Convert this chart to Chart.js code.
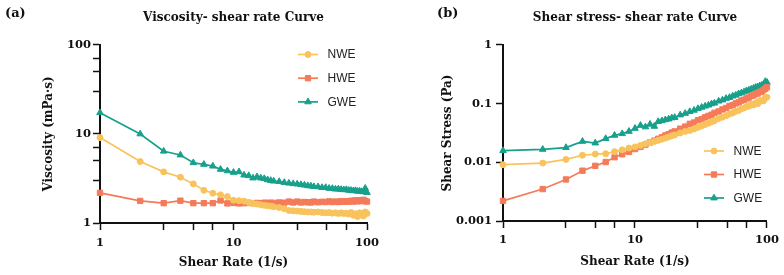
<!DOCTYPE html>
<html>
<head>
<meta charset="utf-8">
<script src="https://cdn.jsdelivr.net/npm/chart.js@4/dist/chart.umd.min.js"></script>
<style>
  html, body { margin: 0; padding: 0; background: #fff; }
  #wrap { position: relative; width: 784px; height: 275px; overflow: hidden; }
  .panel { position: absolute; top: 0; width: 392px; height: 275px; }
  #pa { left: 0; }
  #pb { left: 392px; }
</style>
</head>
<body>
<div id="wrap">
  <div class="panel" id="pa"><canvas id="ca" width="392" height="275"></canvas></div>
  <div class="panel" id="pb"><canvas id="cb" width="392" height="275"></canvas></div>
</div>
<script>
// ---------- DATA ----------
const seriesNames = ['NWE', 'HWE', 'GWE'];
const shearRate = [1,2,3,4,5,6,7,8,9,10,11,12,13,14,15,16,17,18,19,20,
  22,24,26,28,30,32,34,36,38,40,43,46,49,52,55,58,61,64,67,70,
  73,76,79,82,85,88,91,94,97,100];

// Viscosity (mPa·s)
const nweViscosity = [9.1,4.9,3.75,3.27,2.75,2.33,2.16,2.07,1.98,1.80,1.78,1.76,1.70,1.66,1.63,1.60,1.58,1.56,1.55,1.52,
  1.49,1.45,1.38,1.37,1.36,1.35,1.34,1.33,1.33,1.32,1.33,1.31,1.30,1.31,1.29,1.30,1.28,1.30,1.28,1.29,
  1.26,1.31,1.22,1.27,1.18,1.30,1.24,1.20,1.33,1.28];
const hweViscosity = [2.18,1.77,1.67,1.78,1.67,1.67,1.67,1.79,1.66,1.68,1.66,1.67,1.68,1.67,1.68,1.67,1.69,1.68,1.69,1.68,
  1.70,1.69,1.74,1.70,1.74,1.70,1.72,1.71,1.70,1.74,1.71,1.73,1.72,1.75,1.72,1.74,1.72,1.76,1.73,1.75,
  1.74,1.78,1.74,1.80,1.75,1.80,1.76,1.82,1.77,1.74];
const gweViscosity = [17.3,10.0,6.4,5.8,4.75,4.55,4.35,4.0,3.85,3.7,3.75,3.45,3.4,3.2,3.3,3.2,3.15,3.05,3.0,2.95,
  2.92,2.85,2.80,2.76,2.74,2.70,2.66,2.62,2.60,2.56,2.55,2.50,2.50,2.45,2.44,2.40,2.41,2.38,2.36,2.37,
  2.33,2.32,2.30,2.31,2.27,2.28,2.25,2.24,2.45,2.20];

// Shear stress (Pa)
const nweStress = [0.0091,0.0097,0.0112,0.0132,0.0138,0.0140,0.0152,0.0163,0.0175,0.0183,0.0194,0.0207,0.0217,0.0227,0.0237,0.0248,0.0259,0.0270,0.0283,0.0293,
  0.0316,0.0336,0.0348,0.0370,0.0394,0.0418,0.0441,0.0464,0.0489,0.0512,0.0556,0.0588,0.0621,0.0665,0.0694,0.0738,0.0765,0.0816,0.0843,0.0889,
  0.0907,0.0980,0.0950,0.1030,0.0995,0.1130,0.1115,0.1115,0.1270,0.1280];
const hweStress = [0.0022,0.0035,0.0051,0.0072,0.0087,0.0101,0.0122,0.0137,0.0150,0.0168,0.0183,0.0200,0.0218,0.0234,0.0252,0.0267,0.0287,0.0302,0.0321,0.0336,
  0.0374,0.0406,0.0452,0.0476,0.0522,0.0544,0.0585,0.0616,0.0646,0.0696,0.0735,0.0796,0.0843,0.0910,0.0946,0.1009,0.1050,0.1126,0.1159,0.1225,
  0.1270,0.1353,0.1375,0.1476,0.1488,0.1580,0.1600,0.1710,0.1800,0.1900];
const gweStress = [0.0158,0.0166,0.0178,0.0227,0.0213,0.0253,0.0288,0.0307,0.0336,0.0378,0.0425,0.0400,0.0445,0.0410,0.0495,0.0510,0.0530,0.0545,0.0570,0.0580,
  0.0640,0.0680,0.0730,0.0770,0.0820,0.0864,0.0904,0.0940,0.0990,0.1020,0.1100,0.1150,0.1225,0.1270,0.1340,0.1390,0.1470,0.1520,0.1580,0.1660,
  0.1700,0.1760,0.1820,0.1890,0.1930,0.2000,0.2050,0.2100,0.2380,0.2300];

// Tick values
const rateMajorTicks = [1, 10, 100];
const rateMinorTicks = [3, 5, 7, 30, 50, 70];
const viscMajorTicks = [1, 10, 100];
const viscMinorTicks = [3, 5, 7, 30, 50, 70];
const stressMajorTicks = [0.001, 0.01, 0.1, 1];

// ---------- STYLE ----------
const colors = { NWE: '#F8C35C', HWE: '#F47B5A', GWE: '#17A08B' };
const styles = {
  NWE: { pointStyle: 'circle', pointRadius: 3 },
  HWE: { pointStyle: 'rect', pointRadius: 3.8 },
  GWE: { pointStyle: 'triangle', pointRadius: 3.8 }
};
const SERIF = '"DejaVu Serif", serif';
const SANS = '"Liberation Sans", Arial, sans-serif';

function makeDataset(name, ys) {
  return {
    label: name,
    data: shearRate.map((x, i) => ({ x: x, y: ys[i] })),
    borderColor: colors[name],
    backgroundColor: colors[name],
    pointBackgroundColor: colors[name],
    pointBorderColor: colors[name],
    borderWidth: 1.7,
    pointBorderWidth: 1,
    pointStyle: styles[name].pointStyle,
    pointRadius: styles[name].pointRadius,
    tension: 0,
    clip: false
  };
}

const legendPlugin = {
  id: 'sideLegend',
  afterDatasetsDraw(chart, args, opts) {
    const ctx = chart.ctx;
    chart.data.datasets.forEach((ds, i) => {
      const y = opts.y0 + i * opts.dy;
      const x = opts.x0;
      ctx.save();
      ctx.strokeStyle = ds.borderColor;
      ctx.lineWidth = 1.7;
      ctx.beginPath(); ctx.moveTo(x, y); ctx.lineTo(x + 20, y); ctx.stroke();
      ctx.fillStyle = ds.borderColor;
      ctx.strokeStyle = ds.borderColor;
      ctx.lineWidth = 1;
      Chart.helpers.drawPoint(ctx, { pointStyle: ds.pointStyle, radius: ds.pointRadius, borderWidth: 1, rotation: 0 }, x + 10, y);
      ctx.fillStyle = '#222';
      ctx.font = '12px ' + SANS;
      ctx.textBaseline = 'middle';
      ctx.textAlign = 'left';
      ctx.fillText(ds.label, x + 29.5, y + 0.5);
      ctx.restore();
    });
  }
};

const panelLabelPlugin = {
  id: 'panelLabel',
  afterDraw(chart, args, opts) {
    const ctx = chart.ctx;
    ctx.save();
    ctx.fillStyle = '#111';
    ctx.font = 'bold 13px ' + SERIF;
    ctx.textBaseline = 'middle';
    ctx.textAlign = 'left';
    ctx.fillText(opts.text, opts.x, opts.y);
    ctx.restore();
  }
};

function logAxis(opts) {
  const all = opts.major.concat(opts.minor || []).sort((a, b) => a - b);
  return {
    type: 'logarithmic',
    position: opts.position,
    min: opts.min,
    max: opts.max,
    afterBuildTicks: (scale) => { scale.ticks = all.map(v => ({ value: v })); },
    afterFit: (scale) => {
      if (opts.position === 'left') scale.width = opts.size; else scale.height = opts.size;
    },
    border: { display: true, color: '#111', width: 2 },
    grid: { drawOnChartArea: false, drawTicks: true, tickLength: 7, tickColor: '#111', tickWidth: 1.5 },
    ticks: {
      autoSkip: false,
      maxRotation: 0,
      padding: opts.tickPadding,
      color: '#111',
      font: { family: SERIF, size: 11.5, weight: 'bold' },
      callback: (v) => (opts.major.indexOf(v) >= 0 ? String(v) : '')
    },
    title: {
      display: true,
      text: opts.title,
      color: '#111',
      font: { family: SERIF, size: 12, weight: 'bold' },
      padding: opts.titlePadding
    }
  };
}

function makeChart(canvasId, cfg) {
  return new Chart(document.getElementById(canvasId), {
    type: 'line',
    data: { datasets: cfg.datasets },
    options: {
      responsive: false,
      animation: false,
      devicePixelRatio: 1,
      layout: { padding: cfg.padding },
      scales: { x: cfg.x, y: cfg.y },
      plugins: {
        legend: { display: false },
        tooltip: { enabled: false },
        title: {
          display: true,
          text: cfg.title,
          fullSize: false,
          align: 'center',
          color: '#111',
          font: { family: SERIF, size: 12, weight: 'bold' },
          padding: { top: 10.5, bottom: 20 }
        },
        sideLegend: cfg.legend,
        panelLabel: cfg.panel
      }
    },
    plugins: [legendPlugin, panelLabelPlugin]
  });
}

makeChart('ca', {
  title: 'Viscosity- shear rate Curve',
  datasets: [
    makeDataset('NWE', nweViscosity),
    makeDataset('HWE', hweViscosity),
    makeDataset('GWE', gweViscosity)
  ],
  padding: { left: 0, right: 25, top: 0, bottom: 0 },
  x: logAxis({ position: 'bottom', min: 1, max: 100, major: rateMajorTicks, minor: rateMinorTicks, size: 52, tickPadding: 6, title: 'Shear Rate (1/s)', titlePadding: { top: 0, bottom: 5 } }),
  y: logAxis({ position: 'left', min: 1, max: 100, major: viscMajorTicks, minor: viscMinorTicks, size: 100, tickPadding: 2, title: 'Viscosity (mPa·s)', titlePadding: { top: 42, bottom: 0 } }),
  legend: { x0: 298, y0: 54.5, dy: 23.7 },
  panel: { text: '(a)', x: 5, y: 14 }
});

makeChart('cb', {
  title: 'Shear stress- shear rate Curve',
  datasets: [
    makeDataset('NWE', nweStress),
    makeDataset('HWE', hweStress),
    makeDataset('GWE', gweStress)
  ],
  padding: { left: 0, right: 16, top: 0, bottom: 0 },
  x: logAxis({ position: 'bottom', min: 1, max: 100, major: rateMajorTicks, minor: rateMinorTicks, size: 54, tickPadding: 5, title: 'Shear Rate (1/s)', titlePadding: { top: 0, bottom: 6 } }),
  y: logAxis({ position: 'left', min: 0.001, max: 1, major: stressMajorTicks, minor: [], size: 111, tickPadding: 4, title: 'Shear Stress (Pa)', titlePadding: { top: 49, bottom: 0 } }),
  legend: { x0: 312, y0: 151, dy: 23.5 },
  panel: { text: '(b)', x: 45, y: 14 }
});
</script>
</body>
</html>
